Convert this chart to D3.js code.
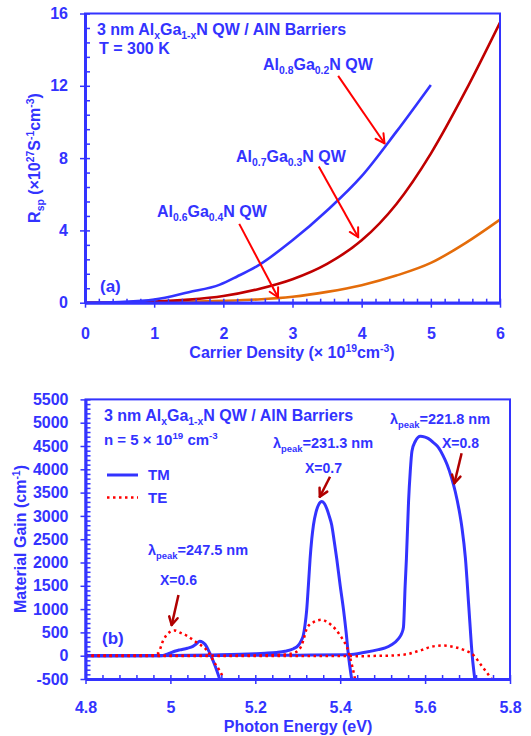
<!DOCTYPE html>
<html>
<head>
<meta charset="utf-8">
<script src="https://cdn.jsdelivr.net/npm/d3@7"></script>
<style>
  body { margin: 0; background: #fff; }
  text { font-family: "Liberation Sans", Arial, sans-serif; font-weight: bold; }
</style>
</head>
<body>
<svg id="chart" width="531" height="736"></svg>
<script>
// ---- panel (a): spontaneous emission rate vs carrier density ----
const densityTicks = [0, 1, 2, 3, 4, 5, 6];
const rspTicks = [0, 4, 8, 12, 16];

// [carrier density (1e19 cm^-3), Rsp (1e27 s^-1 cm^-3)]
const rsp08 = [[0, 0], [0.5, 0.04], [1, 0.17], [1.5, 0.58], [1.95, 1.0], [2.2, 1.45], [2.5, 2.05],
  [3, 3.45], [3.5, 5.1], [4, 7.0], [4.5, 9.45], [5, 12.05]];
const rsp07 = [[0, 0], [0.5, 0.01], [1, 0.06], [1.5, 0.17], [2, 0.37], [2.5, 0.75], [3, 1.3],
  [3.5, 2.15], [4, 3.45], [4.5, 5.45], [5, 8.25], [5.5, 11.7], [6, 15.5]];
const rsp06 = [[0, 0], [1, 0.02], [1.5, 0.05], [2, 0.1], [2.5, 0.18], [3, 0.33], [3.5, 0.6],
  [4, 0.97], [4.5, 1.5], [5, 2.2], [5.5, 3.3], [6, 4.6]];

// arrows: [tailX, tailY, tipX, tipY] in data units
const arrowsA = [[3.66, 12.55, 4.33, 8.82], [3.38, 7.53, 3.95, 3.62], [2.23, 4.36, 2.79, 0.30]];

// ---- panel (b): material gain vs photon energy ----
const energyTicks = [4.8, 5.0, 5.2, 5.4, 5.6, 5.8];
const gainTicks = [-500, 0, 500, 1000, 1500, 2000, 2500, 3000, 3500, 4000, 4500, 5000, 5500];

// [photon energy (eV), gain (cm^-1)]
const tm06 = [[4.8, 0], [4.9, 0], [4.98, 0], [4.99, 25], [5.0, 60], [5.01, 95], [5.022, 125], [5.04, 160],
  [5.053, 200], [5.062, 260], [5.069, 311], [5.076, 290], [5.082, 240], [5.09, 110], [5.097, -30],
  [5.105, -210], [5.116, -500]];
const tm07 = [[4.8, 0], [5.0, 5], [5.1, 15], [5.2, 40], [5.223, 52], [5.25, 70], [5.27, 95], [5.29, 150],
  [5.301, 218], [5.308, 320], [5.313, 433], [5.317, 650], [5.321, 972], [5.325, 1500], [5.329, 2070],
  [5.333, 2500], [5.337, 2805], [5.343, 3080], [5.349, 3236], [5.357, 3307], [5.363, 3260], [5.368, 3165],
  [5.374, 3000], [5.38, 2805], [5.386, 2450], [5.392, 2070], [5.4, 1500], [5.408, 972], [5.414, 500],
  [5.419, 39], [5.427, -500]];
const tm08 = [[4.8, 0], [5.1, 5], [5.3, 12], [5.42, 20], [5.459, 73], [5.49, 130], [5.506, 168], [5.52, 230],
  [5.537, 362], [5.545, 480], [5.549, 612], [5.553, 1500], [5.556, 2087], [5.561, 3307], [5.565, 3950],
  [5.569, 4385], [5.577, 4601], [5.589, 4709], [5.6, 4690], [5.608, 4659], [5.62, 4570], [5.632, 4459],
  [5.642, 4300], [5.652, 4099], [5.662, 3830], [5.671, 3523], [5.68, 3130], [5.687, 2734], [5.695, 2087],
  [5.703, 1044], [5.711, 2], [5.717, -500]];
const te06 = [[4.8, 0], [4.9, 0], [4.96, 10], [4.971, 52], [4.983, 326], [4.998, 505], [5.01, 541],
  [5.024, 490], [5.038, 433], [5.061, 289], [5.085, 125], [5.095, 0], [5.101, -106], [5.116, -321],
  [5.126, -500]];
const te07 = [[4.8, 0], [5.1, 0], [5.2, 5], [5.27, 24], [5.29, 60], [5.301, 110], [5.308, 200], [5.313, 326],
  [5.321, 578], [5.328, 670], [5.337, 720], [5.347, 760], [5.357, 772], [5.368, 730], [5.38, 649],
  [5.39, 560], [5.4, 433], [5.408, 320], [5.416, 181], [5.423, -34], [5.429, -250], [5.435, -500]];
const te08 = [[4.8, -5], [5.2, -5], [5.4, -5], [5.45, -10], [5.5, 0], [5.522, 2], [5.54, 15], [5.561, 39],
  [5.58, 90], [5.593, 125], [5.616, 196], [5.644, 218], [5.671, 181], [5.695, 110], [5.715, 2],
  [5.73, -177], [5.742, -321], [5.754, -466], [5.757, -500]];

const arrowsB = [[5.019, 1303, 5.003, 659], [5.376, 3841, 5.352, 3412], [5.686, 4343, 5.669, 3700]];

const BLUE = '#3333ff';
const svg = d3.select('#chart');

// text with sub / superscript parts: 'plain' or ['txt', 'sub'|'sup']
function richText(parent, x, y, parts, size, color) {
  const t = parent.append('text')
    .attr('x', x).attr('y', y)
    .style('font-size', size + 'px')
    .attr('fill', color || BLUE);
  let shift = 0;
  parts.forEach(p => {
    const str = typeof p === 'string' ? p : p[0];
    const kind = typeof p === 'string' ? null : p[1];
    const target = kind === 'sub' ? 0.28 * size : kind === 'sup' ? -0.4 * size : 0;
    t.append('tspan')
      .attr('dy', target - shift)
      .style('font-size', kind ? (0.65 * size) + 'px' : null)
      .text(str);
    shift = target;
  });
  return t;
}

function drawArrow(parent, x, y, a, color, width, head) {
  const x1 = x(a[0]), y1 = y(a[1]), x2 = x(a[2]), y2 = y(a[3]);
  const ang = Math.atan2(y2 - y1, x2 - x1);
  parent.append('line')
    .attr('x1', x1).attr('y1', y1).attr('x2', x2).attr('y2', y2)
    .style('stroke', color).style('stroke-width', width);
  [-0.5, 0.5].forEach(d => {
    parent.append('line')
      .attr('x1', x2).attr('y1', y2)
      .attr('x2', x2 - head * Math.cos(ang + d))
      .attr('y2', y2 - head * Math.sin(ang + d))
      .style('stroke', color).style('stroke-width', width)
      .style('stroke-linecap', 'round');
  });
}

function styleAxis(g, hideDomain) {
  g.attr('font-family', null).attr('font-size', null);
  g.select('.domain').style('display', hideDomain ? 'none' : null)
    .style('stroke', BLUE).style('stroke-width', 3);
  g.selectAll('.tick line').style('stroke', BLUE).style('stroke-width', 1.5);
  g.selectAll('.tick text').style('fill', BLUE).style('font-size', '16px');
}

// draws frame, major (outward) and minor (inward) ticks
function drawFrame(x, y, xMajor, xMinor, yMajor, yMinor, xFmt, xPad) {
  const [x0, x1] = x.range();
  const [y0, y1] = y.range();
  svg.append('rect')
    .attr('x', x0).attr('y', y1).attr('width', x1 - x0).attr('height', y0 - y1)
    .style('fill', 'none').style('stroke', BLUE).style('stroke-width', 2);

  svg.append('g').attr('transform', `translate(0,${y0})`)
    .call(d3.axisTop(x).tickValues(xMinor).tickSize(4).tickFormat(''))
    .call(g => styleAxis(g, true));
  svg.append('g').attr('transform', `translate(${x0},0)`)
    .call(d3.axisRight(y).tickValues(yMinor).tickSize(5).tickFormat(''))
    .call(g => styleAxis(g, true));

  svg.append('g').attr('transform', `translate(0,${y0})`)
    .call(d3.axisBottom(x).tickValues(xMajor).tickSize(5).tickSizeOuter(0).tickPadding(xPad).tickFormat(xFmt))
    .call(g => styleAxis(g, false));
  svg.append('g').attr('transform', `translate(${x0},0)`)
    .call(d3.axisLeft(y).tickValues(yMajor).tickSize(5).tickSizeOuter(0).tickPadding(12)
      .tickFormat(d => String(d)))
    .call(g => styleAxis(g, false));
}

function minorTicks(lo, hi, step) {
  const out = [];
  for (let i = 0; lo + i * step <= hi + 1e-9; i++) out.push(+(lo + i * step).toFixed(4));
  return out;
}

// ================= panel (a) =================
const xA = d3.scaleLinear().domain([0, 6]).range([85, 500]);
const yA = d3.scaleLinear().domain([0, 16]).range([302.7, 13.5]);

svg.append('clipPath').attr('id', 'clipA').append('rect')
  .attr('x', 85).attr('y', 13.5).attr('width', 415).attr('height', 289.2);

const lineA = d3.line().x(d => xA(d[0])).y(d => yA(d[1])).curve(d3.curveMonotoneX);
const gA = svg.append('g').attr('clip-path', 'url(#clipA)');
[[rsp06, '#e46c0a'], [rsp07, '#c00000'], [rsp08, BLUE]].forEach(([data, color]) => {
  gA.append('path').datum(data).attr('d', lineA)
    .style('fill', 'none').style('stroke', color).style('stroke-width', 2.6);
});

drawFrame(xA, yA, densityTicks, minorTicks(0, 6, 0.2), rspTicks, minorTicks(0, 16, 0.8), d => d, 20);

arrowsA.forEach(a => drawArrow(svg, xA, yA, a, '#ff0000', 2, 10));

richText(svg, 97, 35, ['3 nm Al', ['x', 'sub'], 'Ga', ['1-x', 'sub'], 'N  QW / AlN Barriers'], 16);
richText(svg, 99, 54, ['T = 300 K'], 16);
richText(svg, 263, 70, ['Al', ['0.8', 'sub'], 'Ga', ['0.2', 'sub'], 'N QW'], 16);
richText(svg, 236, 162, ['Al', ['0.7', 'sub'], 'Ga', ['0.3', 'sub'], 'N QW'], 16);
richText(svg, 157, 217, ['Al', ['0.6', 'sub'], 'Ga', ['0.4', 'sub'], 'N QW'], 16);
richText(svg, 100, 292, ['(a)'], 17);

richText(svg, 292, 358, ['Carrier Density (× 10', ['19', 'sup'], 'cm', ['-3', 'sup'], ')'], 16)
  .attr('text-anchor', 'middle');
richText(svg, -158, 40, ['R', ['sp', 'sub'], ' (×10', ['27', 'sup'], 'S', ['-1', 'sup'], 'cm', ['-3', 'sup'], ')'], 16)
  .attr('transform', 'rotate(-90)').attr('text-anchor', 'middle');

// ================= panel (b) =================
const xB = d3.scaleLinear().domain([4.8, 5.8]).range([85.5, 510]);
const yB = d3.scaleLinear().domain([-500, 5500]).range([679, 399.4]);

svg.append('clipPath').attr('id', 'clipB').append('rect')
  .attr('x', 85.5).attr('y', 399.4).attr('width', 424.5).attr('height', 279.6);

const lineB = d3.line().x(d => xB(d[0])).y(d => yB(d[1])).curve(d3.curveMonotoneX);
const gB = svg.append('g').attr('clip-path', 'url(#clipB)');
[tm06, tm07, tm08].forEach(data => {
  gB.append('path').datum(data).attr('d', lineB)
    .style('fill', 'none').style('stroke', BLUE).style('stroke-width', 3);
});
[te06, te07, te08].forEach(data => {
  gB.append('path').datum(data).attr('d', lineB)
    .style('fill', 'none').style('stroke', '#ff0000').style('stroke-width', 2.5)
    .style('stroke-dasharray', '2.5,3.5');
});

drawFrame(xB, yB, energyTicks, minorTicks(4.8, 5.8, 0.04), gainTicks, minorTicks(-500, 5500, 100),
  d => String(+d.toFixed(2)), 18);

arrowsB.forEach(a => drawArrow(svg, xB, yB, a, '#b00000', 2.5, 9));

richText(svg, 104, 421, ['3 nm Al', ['x', 'sub'], 'Ga', ['1-x', 'sub'], 'N  QW / AlN Barriers'], 16);
richText(svg, 104, 445, ['n = 5 × 10', ['19', 'sup'], ' cm', ['-3', 'sup']], 15);

// legend
svg.append('line').attr('x1', 107).attr('x2', 138).attr('y1', 475).attr('y2', 475)
  .style('stroke', BLUE).style('stroke-width', 3);
svg.append('line').attr('x1', 107).attr('x2', 138).attr('y1', 497.5).attr('y2', 497.5)
  .style('stroke', '#ff0000').style('stroke-width', 2.5).style('stroke-dasharray', '2.5,3.5');
richText(svg, 148, 480, ['TM'], 15);
richText(svg, 148, 503, ['TE'], 15);

richText(svg, 148, 555, ['λ', ['peak', 'sub'], '=247.5 nm'], 14.5);
richText(svg, 160, 585, ['X=0.6'], 14);
richText(svg, 273, 448, ['λ', ['peak', 'sub'], '=231.3 nm'], 14.5);
richText(svg, 305, 473, ['X=0.7'], 14);
richText(svg, 390, 424, ['λ', ['peak', 'sub'], '=221.8 nm'], 14.5);
richText(svg, 442, 448, ['X=0.8'], 14);
richText(svg, 102, 644, ['(b)'], 17);

richText(svg, 298, 731.5, ['Photon Energy (eV)'], 16).attr('text-anchor', 'middle');
richText(svg, -539, 26, ['Material Gain (cm', ['-1', 'sup'], ')'], 16)
  .attr('transform', 'rotate(-90)').attr('text-anchor', 'middle');
</script>
</body>
</html>
